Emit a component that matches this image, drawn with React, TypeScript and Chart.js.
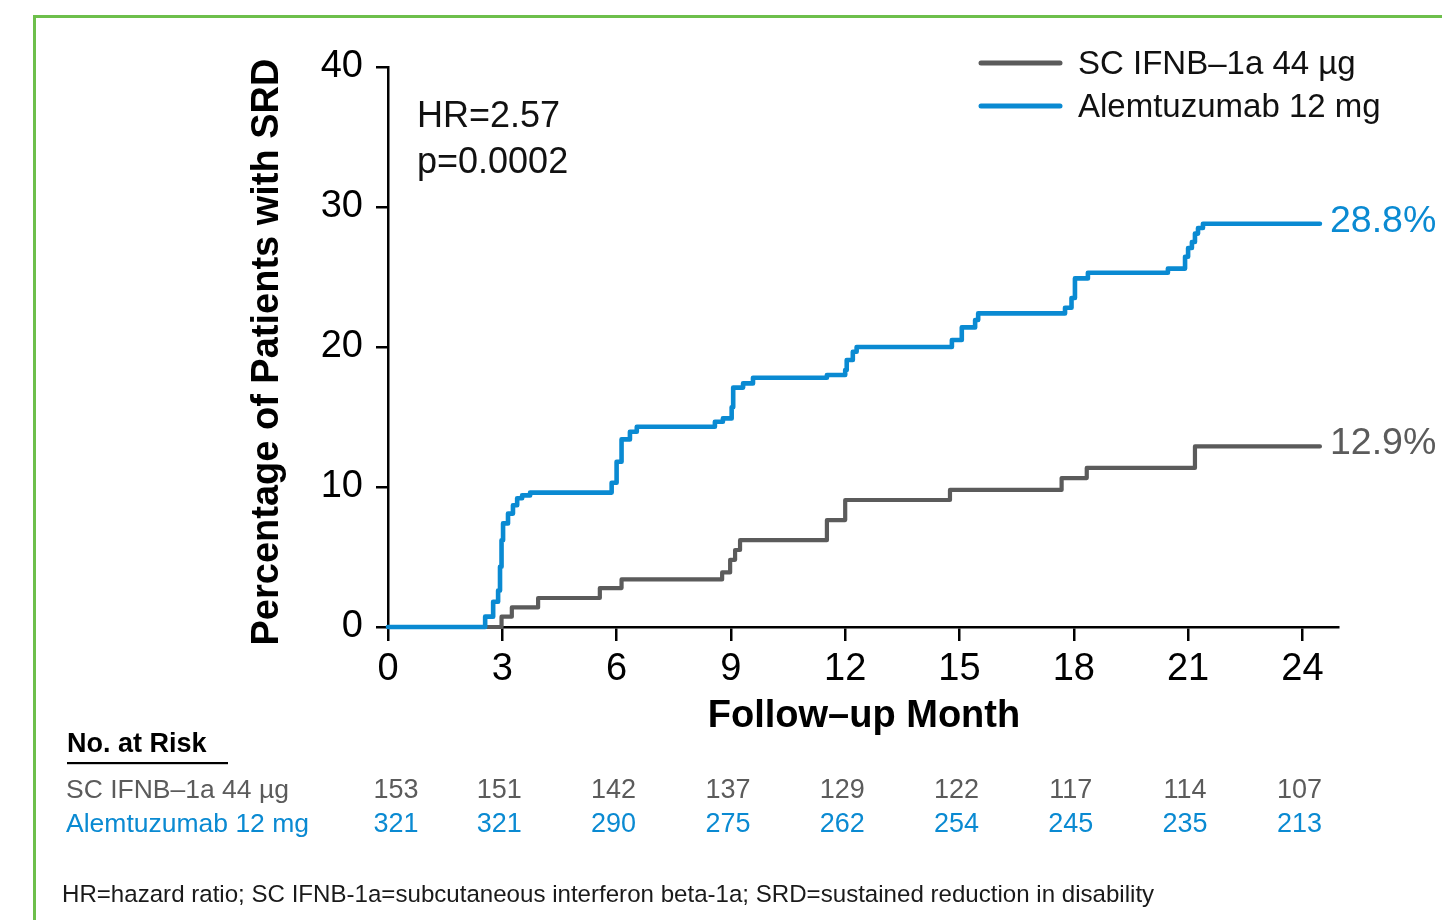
import React, { useEffect, useRef } from "react";
import { Chart, registerables } from "chart.js";

Chart.register(...registerables);

// ---------- data ----------
const monthTicks = [0, 3, 6, 9, 12, 15, 18, 21, 24];

const ifnbLabel = "SC IFNB\u20131a 44 \u00b5g";
const alemLabel = "Alemtuzumab 12 mg";

const ifnbMonths = [0, 2.98, 3.25, 3.94, 5.56, 6.13, 8.77, 8.98, 9.11, 9.24, 11.52, 12.0, 14.75, 17.68, 18.34, 21.18, 24.46];
const ifnbPct = [0, 0.74, 1.4, 2.07, 2.78, 3.4, 3.9, 4.8, 5.5, 6.2, 7.64, 9.07, 9.79, 10.64, 11.36, 12.9, 12.9];

const alemMonths = [0, 2.55, 2.76, 2.89, 2.94, 2.98, 3.02, 3.15, 3.28, 3.39, 3.52, 3.73, 5.87, 6.0, 6.13, 6.35, 6.53, 8.58, 8.79, 9.02, 9.06, 9.32, 9.58, 11.52, 12.0, 12.04, 12.2, 12.3, 14.8, 15.06, 15.41, 15.49, 17.77, 17.94, 18.03, 18.37, 20.47, 20.92, 21.0, 21.1, 21.18, 21.26, 21.39, 24.46];
const alemPct = [0, 0.74, 1.8, 2.6, 4.3, 6.2, 7.4, 8.1, 8.7, 9.2, 9.4, 9.6, 10.3, 11.8, 13.4, 13.95, 14.3, 14.66, 14.9, 15.7, 17.1, 17.4, 17.8, 18.0, 18.36, 19.07, 19.66, 20.0, 20.5, 21.4, 21.93, 22.4, 22.8, 23.5, 24.9, 25.3, 25.6, 26.45, 27.07, 27.5, 28.1, 28.5, 28.8, 28.8];

const riskIfnb = [153, 151, 142, 137, 129, 122, 117, 114, 107];
const riskAlem = [321, 321, 290, 275, 262, 254, 245, 235, 213];

const hrText = "HR=2.57";
const pText = "p=0.0002";
const yTitle = "Percentage of Patients with SRD";
const xTitle = "Follow\u2013up Month";
const riskTitle = "No. at Risk";
const footnote = "HR=hazard ratio; SC IFNB-1a=subcutaneous interferon beta-1a; SRD=sustained reduction in disability";

// ---------- styles ----------
const GRAY = "#5b5b5b";
const BLUE = "#0a8ad2";
const GREEN = "#6dbf4b";
const FONT = '"Liberation Sans", Arial, Helvetica, sans-serif';

const W = 1442;
const H = 920;
const AREA_LEFT = 388;
const AREA_RIGHT = 1338;
const AREA_TOP = 67;
const AREA_BOTTOM = 627;
const Y_AXIS_W = 140;
const X_AXIS_H = 60;

const overlayPlugin = {
  id: "overlay",
  afterDraw(chart: any) {
    const ctx = chart.ctx as CanvasRenderingContext2D;
    const xs = chart.scales.x;
    const ys = chart.scales.y;
    ctx.save();

    // green frame
    ctx.strokeStyle = GREEN;
    ctx.lineWidth = 3;
    ctx.beginPath();
    ctx.moveTo(34.5, H + 5);
    ctx.lineTo(34.5, 16.5);
    ctx.lineTo(W + 5, 16.5);
    ctx.stroke();

    // HR text
    ctx.fillStyle = "#111";
    ctx.textAlign = "left";
    ctx.textBaseline = "alphabetic";
    ctx.font = `36px ${FONT}`;
    ctx.fillText(hrText, 417, 127);
    ctx.fillText(pText, 417, 173);

    // legend
    const legend = [
      { label: ifnbLabel, color: GRAY, y: 63 },
      { label: alemLabel, color: BLUE, y: 106 },
    ];
    ctx.lineCap = "round";
    ctx.lineWidth = 5;
    for (const l of legend) {
      ctx.strokeStyle = l.color;
      ctx.beginPath();
      ctx.moveTo(981, l.y);
      ctx.lineTo(1060, l.y);
      ctx.stroke();
      ctx.fillStyle = "#111";
      ctx.font = `33px ${FONT}`;
      ctx.fillText(l.label, 1078, l.y + 11);
    }

    // end labels
    ctx.font = `37.5px ${FONT}`;
    const ends = [
      { m: alemMonths, v: alemPct, color: BLUE },
      { m: ifnbMonths, v: ifnbPct, color: GRAY },
    ];
    for (const e of ends) {
      const lastM = e.m[e.m.length - 1];
      const lastV = e.v[e.v.length - 1];
      ctx.fillStyle = e.color;
      ctx.fillText(`${lastV.toFixed(1)}%`, xs.getPixelForValue(lastM) + 10, ys.getPixelForValue(lastV) + 8);
    }

    // axis titles
    ctx.fillStyle = "#000";
    ctx.font = `bold 38px ${FONT}`;
    ctx.save();
    ctx.translate(278, (chart.chartArea.top + chart.chartArea.bottom) / 2 + 5);
    ctx.rotate(-Math.PI / 2);
    ctx.textAlign = "center";
    ctx.fillText(yTitle, 0, 0);
    ctx.restore();

    ctx.font = `bold 38px ${FONT}`;
    ctx.textAlign = "center";
    ctx.fillText(xTitle, (chart.chartArea.left + chart.chartArea.right) / 2 + 1, 727);

    // number at risk
    ctx.textAlign = "left";
    ctx.font = `bold 27px ${FONT}`;
    ctx.fillText(riskTitle, 67, 752);
    ctx.fillRect(67, 762, 161, 2.2);

    ctx.font = `26.5px ${FONT}`;
    ctx.fillStyle = GRAY;
    ctx.fillText(ifnbLabel, 66, 798);
    ctx.fillStyle = BLUE;
    ctx.fillText(alemLabel, 66, 832);

    ctx.textAlign = "center";
    ctx.font = `27px ${FONT}`;
    monthTicks.forEach((m, i) => {
      const px = xs.getPixelForValue(m) + (i === 0 ? 8 : -3);
      ctx.fillStyle = GRAY;
      ctx.fillText(String(riskIfnb[i]), px, 798);
      ctx.fillStyle = BLUE;
      ctx.fillText(String(riskAlem[i]), px, 832);
    });

    // footnote
    ctx.textAlign = "left";
    ctx.fillStyle = "#1a1a1a";
    ctx.font = `24.1px ${FONT}`;
    ctx.fillText(footnote, 62, 902);

    ctx.restore();
  },
};

export default function App() {
  const ref = useRef<HTMLCanvasElement | null>(null);

  useEffect(() => {
    document.body.style.margin = "0";
    const canvas = ref.current;
    if (!canvas) return;
    const toPts = (xs: number[], ys: number[]) => xs.map((x, i) => ({ x, y: ys[i] }));
    const xMax = (AREA_RIGHT - AREA_LEFT) / ((1302.4 - AREA_LEFT) / 24);

    const chart = new Chart(canvas, {
      type: "line",
      data: {
        datasets: [
          {
            label: ifnbLabel,
            data: toPts(ifnbMonths, ifnbPct),
            borderColor: GRAY,
            borderWidth: 4.2,
            borderJoinStyle: "round",
            borderCapStyle: "round",
            stepped: true,
            pointRadius: 0,
            fill: false,
            order: 1,
            clip: false,
          } as any,
          {
            label: alemLabel,
            data: toPts(alemMonths, alemPct),
            borderColor: BLUE,
            borderWidth: 4.6,
            borderJoinStyle: "round",
            borderCapStyle: "round",
            stepped: true,
            pointRadius: 0,
            fill: false,
            order: 0,
            clip: false,
          } as any,
        ],
      },
      options: {
        responsive: false,
        animation: false,
        devicePixelRatio: 1,
        font: { family: FONT },
        layout: {
          padding: {
            left: AREA_LEFT - Y_AXIS_W,
            right: W - AREA_RIGHT,
            top: AREA_TOP,
            bottom: H - AREA_BOTTOM - X_AXIS_H,
          },
        },
        scales: {
          x: {
            type: "linear",
            min: 0,
            max: xMax,
            afterBuildTicks: (s: any) => {
              s.ticks = monthTicks.map((v) => ({ value: v }));
            },
            afterFit: (s: any) => {
              s.height = X_AXIS_H;
            },
            grid: { drawOnChartArea: false, drawTicks: true, tickLength: 14, color: "#000", lineWidth: 2.5 },
            border: { display: true, color: "#000", width: 2.5 },
            ticks: { font: { size: 38, family: FONT }, color: "#000", padding: 6, maxRotation: 0, autoSkip: false },
          },
          y: {
            type: "linear",
            min: 0,
            max: 40,
            afterFit: (s: any) => {
              s.width = Y_AXIS_W;
            },
            grid: { drawOnChartArea: false, drawTicks: true, tickLength: 12, color: "#000", lineWidth: 2.5 },
            border: { display: true, color: "#000", width: 2.5 },
            ticks: { stepSize: 10, font: { size: 38, family: FONT }, color: "#000", padding: 13 },
          },
        },
        plugins: {
          legend: { display: false },
          tooltip: { enabled: false },
        },
      } as any,
      plugins: [overlayPlugin],
    });
    return () => chart.destroy();
  }, []);

  return (
    <div style={{ position: "fixed", left: 0, top: 0, width: W, height: H, background: "#fff" }}>
      <canvas ref={ref} width={W} height={H} style={{ width: W, height: H, display: "block" }} />
    </div>
  );
}
